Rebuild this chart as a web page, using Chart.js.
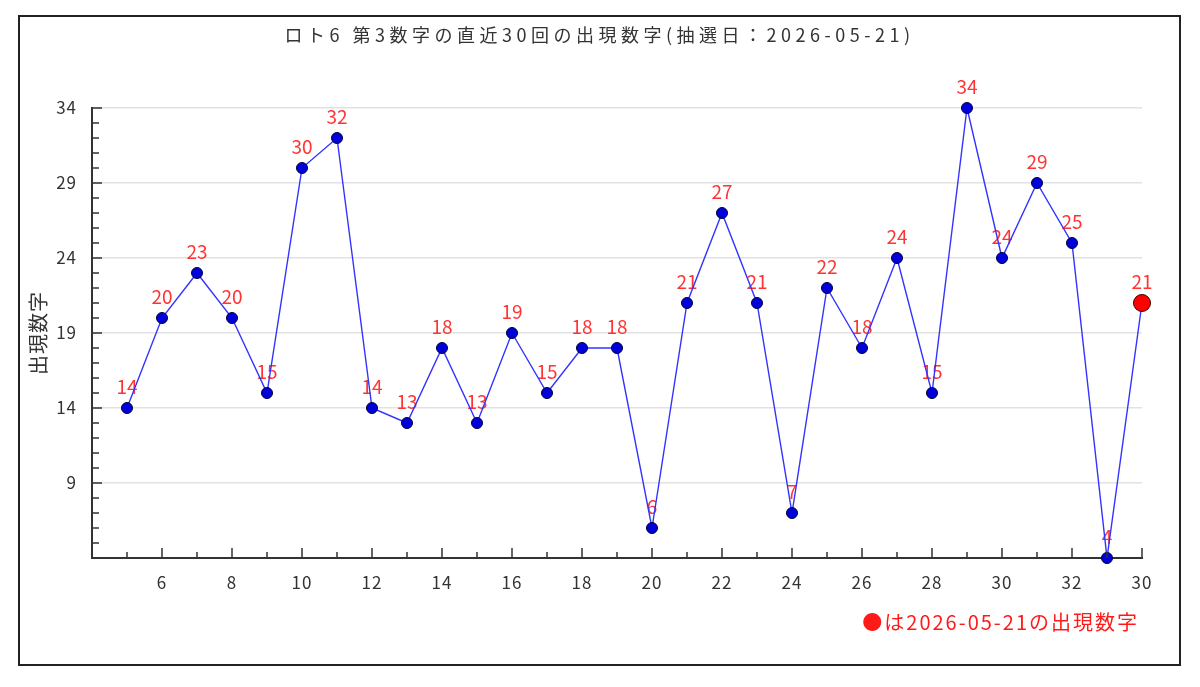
<!DOCTYPE html>
<html lang="ja">
<head>
    <meta charset="UTF-8">
    <title>ロト6 第3数字の直近30回の出現数字</title>
    <script src="https://cdn.jsdelivr.net/npm/chart.js"></script>
    <style>
        body {
            margin: 0;
            background-color: #fff;
        }
        #chartBox {
            position: absolute;
            left: 18px;
            top: 15px;
            width: 1159px;
            height: 647px;
            border: 2px solid #222;
            background: #fff;
        }
    </style>
</head>
<body>
    <div id="chartBox">
        <canvas id="myChart"></canvas>
    </div>

    <script>
        // x軸のラベル (最後の1つは元の図のまま「30」)
        const categories = ['5', '6', '7', '8', '9', '10', '11', '12', '13', '14',
            '15', '16', '17', '18', '19', '20', '21', '22', '23', '24',
            '25', '26', '27', '28', '29', '30', '31', '32', '33', '30'];
        // 第3数字の出現数字
        const numbers = [14, 20, 23, 20, 15, 30, 32, 14, 13, 18,
            13, 19, 15, 18, 18, 6, 21, 27, 21, 7,
            22, 18, 24, 15, 34, 24, 29, 25, 4, 21];
        const yTicks = [9, 14, 19, 24, 29, 34];
        const chartTitle = 'ロト6 第3数字の直近30回の出現数字(抽選日：2026-05-21)';
        const noteText = '●は2026-05-21の出現数字';

        const FONT = '"Noto Sans CJK JP", "Noto Sans", sans-serif';
        const last = numbers.length - 1;

        // 数値ラベル (線の下に描く)
        const valueLabels = {
            id: 'valueLabels',
            beforeDraw(chart) {
                // 目盛りの文字は少し字間を空ける
                chart.ctx.letterSpacing = '1px';
            },
            beforeDatasetsDraw(chart) {
                const ctx = chart.ctx;
                const meta = chart.getDatasetMeta(0);
                ctx.save();
                ctx.letterSpacing = '0px';
                ctx.font = '19px ' + FONT;
                ctx.fillStyle = '#ff3333';
                ctx.textAlign = 'center';
                ctx.textBaseline = 'middle';
                meta.data.forEach((pt, i) => {
                    ctx.fillText(String(numbers[i]), pt.x, pt.y - 21);
                });
                ctx.restore();
            }
        };

        // 内向きの目盛り線、タイトル、注記
        const innerTicks = {
            id: 'innerTicks',
            afterDraw(chart) {
                const ctx = chart.ctx;
                const xs = chart.scales.x;
                const ys = chart.scales.y;
                const area = chart.chartArea;
                ctx.save();
                ctx.strokeStyle = '#333';
                ctx.lineWidth = 1.5;
                ctx.beginPath();
                for (let i = 0; i < categories.length; i++) {
                    const px = xs.getPixelForValue(i);
                    const len = (i % 2 === 1) ? 10 : 6;
                    ctx.moveTo(px, area.bottom);
                    ctx.lineTo(px, area.bottom - len);
                }
                for (let v = ys.min + 1; v <= ys.max; v++) {
                    const py = ys.getPixelForValue(v);
                    const len = yTicks.includes(v) ? 10 : 7;
                    ctx.moveTo(area.left, py);
                    ctx.lineTo(area.left + len, py);
                }
                ctx.stroke();

                ctx.textBaseline = 'middle';

                // タイトル
                ctx.letterSpacing = '4.5px';
                ctx.font = '18px ' + FONT;
                ctx.fillStyle = '#333';
                ctx.textAlign = 'center';
                ctx.fillText(chartTitle, chart.width / 2, 18);

                // 凡例の注記
                ctx.letterSpacing = '2px';
                ctx.font = '20px ' + FONT;
                ctx.fillStyle = '#ff1a1a';
                ctx.textAlign = 'right';
                ctx.fillText(noteText, area.right - 3, area.bottom + 64);
                ctx.restore();
                ctx.letterSpacing = '0px';
            }
        };

        const ctx = document.getElementById('myChart').getContext('2d');
        const myChart = new Chart(ctx, {
            type: 'line',
            data: {
                datasets: [{
                    data: numbers.map((v, i) => ({ x: i, y: v })),
                    borderColor: '#3333ff',
                    borderWidth: 1.4,
                    tension: 0,
                    clip: false,
                    pointRadius: c => c.dataIndex === last ? 8.5 : 5.5,
                    pointBackgroundColor: c => c.dataIndex === last ? '#ff0000' : '#0000dd',
                    pointBorderColor: c => c.dataIndex === last ? '#440000' : '#000033',
                    pointBorderWidth: 1,
                }],
            },
            options: {
                responsive: true,
                maintainAspectRatio: false,
                animation: false,
                layout: { padding: { top: 91, bottom: 66, left: 0, right: 0 } },
                plugins: {
                    legend: { display: false },
                    tooltip: { enabled: false },
                    title: { display: false },
                },
                scales: {
                    x: {
                        type: 'linear',
                        min: -1,
                        max: categories.length - 1,
                        grid: { display: false, drawTicks: false },
                        border: { display: true, color: '#333', width: 2 },
                        ticks: {
                            stepSize: 1,
                            autoSkip: false,
                            maxRotation: 0,
                            padding: 14,
                            color: '#333',
                            font: { family: FONT, size: 17 },
                            callback: v => (v >= 0 && v % 2 === 1) ? categories[v] : '',
                        },
                        afterFit(s) { s.height = 40; },
                    },
                    y: {
                        min: 4,
                        max: 34,
                        grid: {
                            drawTicks: false,
                            lineWidth: 1.5,
                            color: c => yTicks.includes(c.tick.value) ? '#e2e2e2' : 'rgba(0,0,0,0)',
                        },
                        border: { display: true, color: '#333', width: 2 },
                        title: {
                            display: true,
                            text: '出現数字',
                            color: '#333',
                            font: { family: FONT, size: 20 },
                            padding: { top: 6, bottom: 0 },
                        },
                        ticks: {
                            stepSize: 1,
                            autoSkip: false,
                            padding: 15,
                            color: '#333',
                            font: { family: FONT, size: 17 },
                            callback: v => yTicks.includes(v) ? String(v) : '',
                        },
                        afterFit(s) { s.width = 72; },
                    },
                    yr: {
                        position: 'right',
                        grid: { display: false },
                        border: { display: false },
                        ticks: { display: false },
                        afterFit(s) { s.width = 37; },
                    },
                },
            },
            plugins: [valueLabels, innerTicks],
        });
    </script>
</body>
</html>
